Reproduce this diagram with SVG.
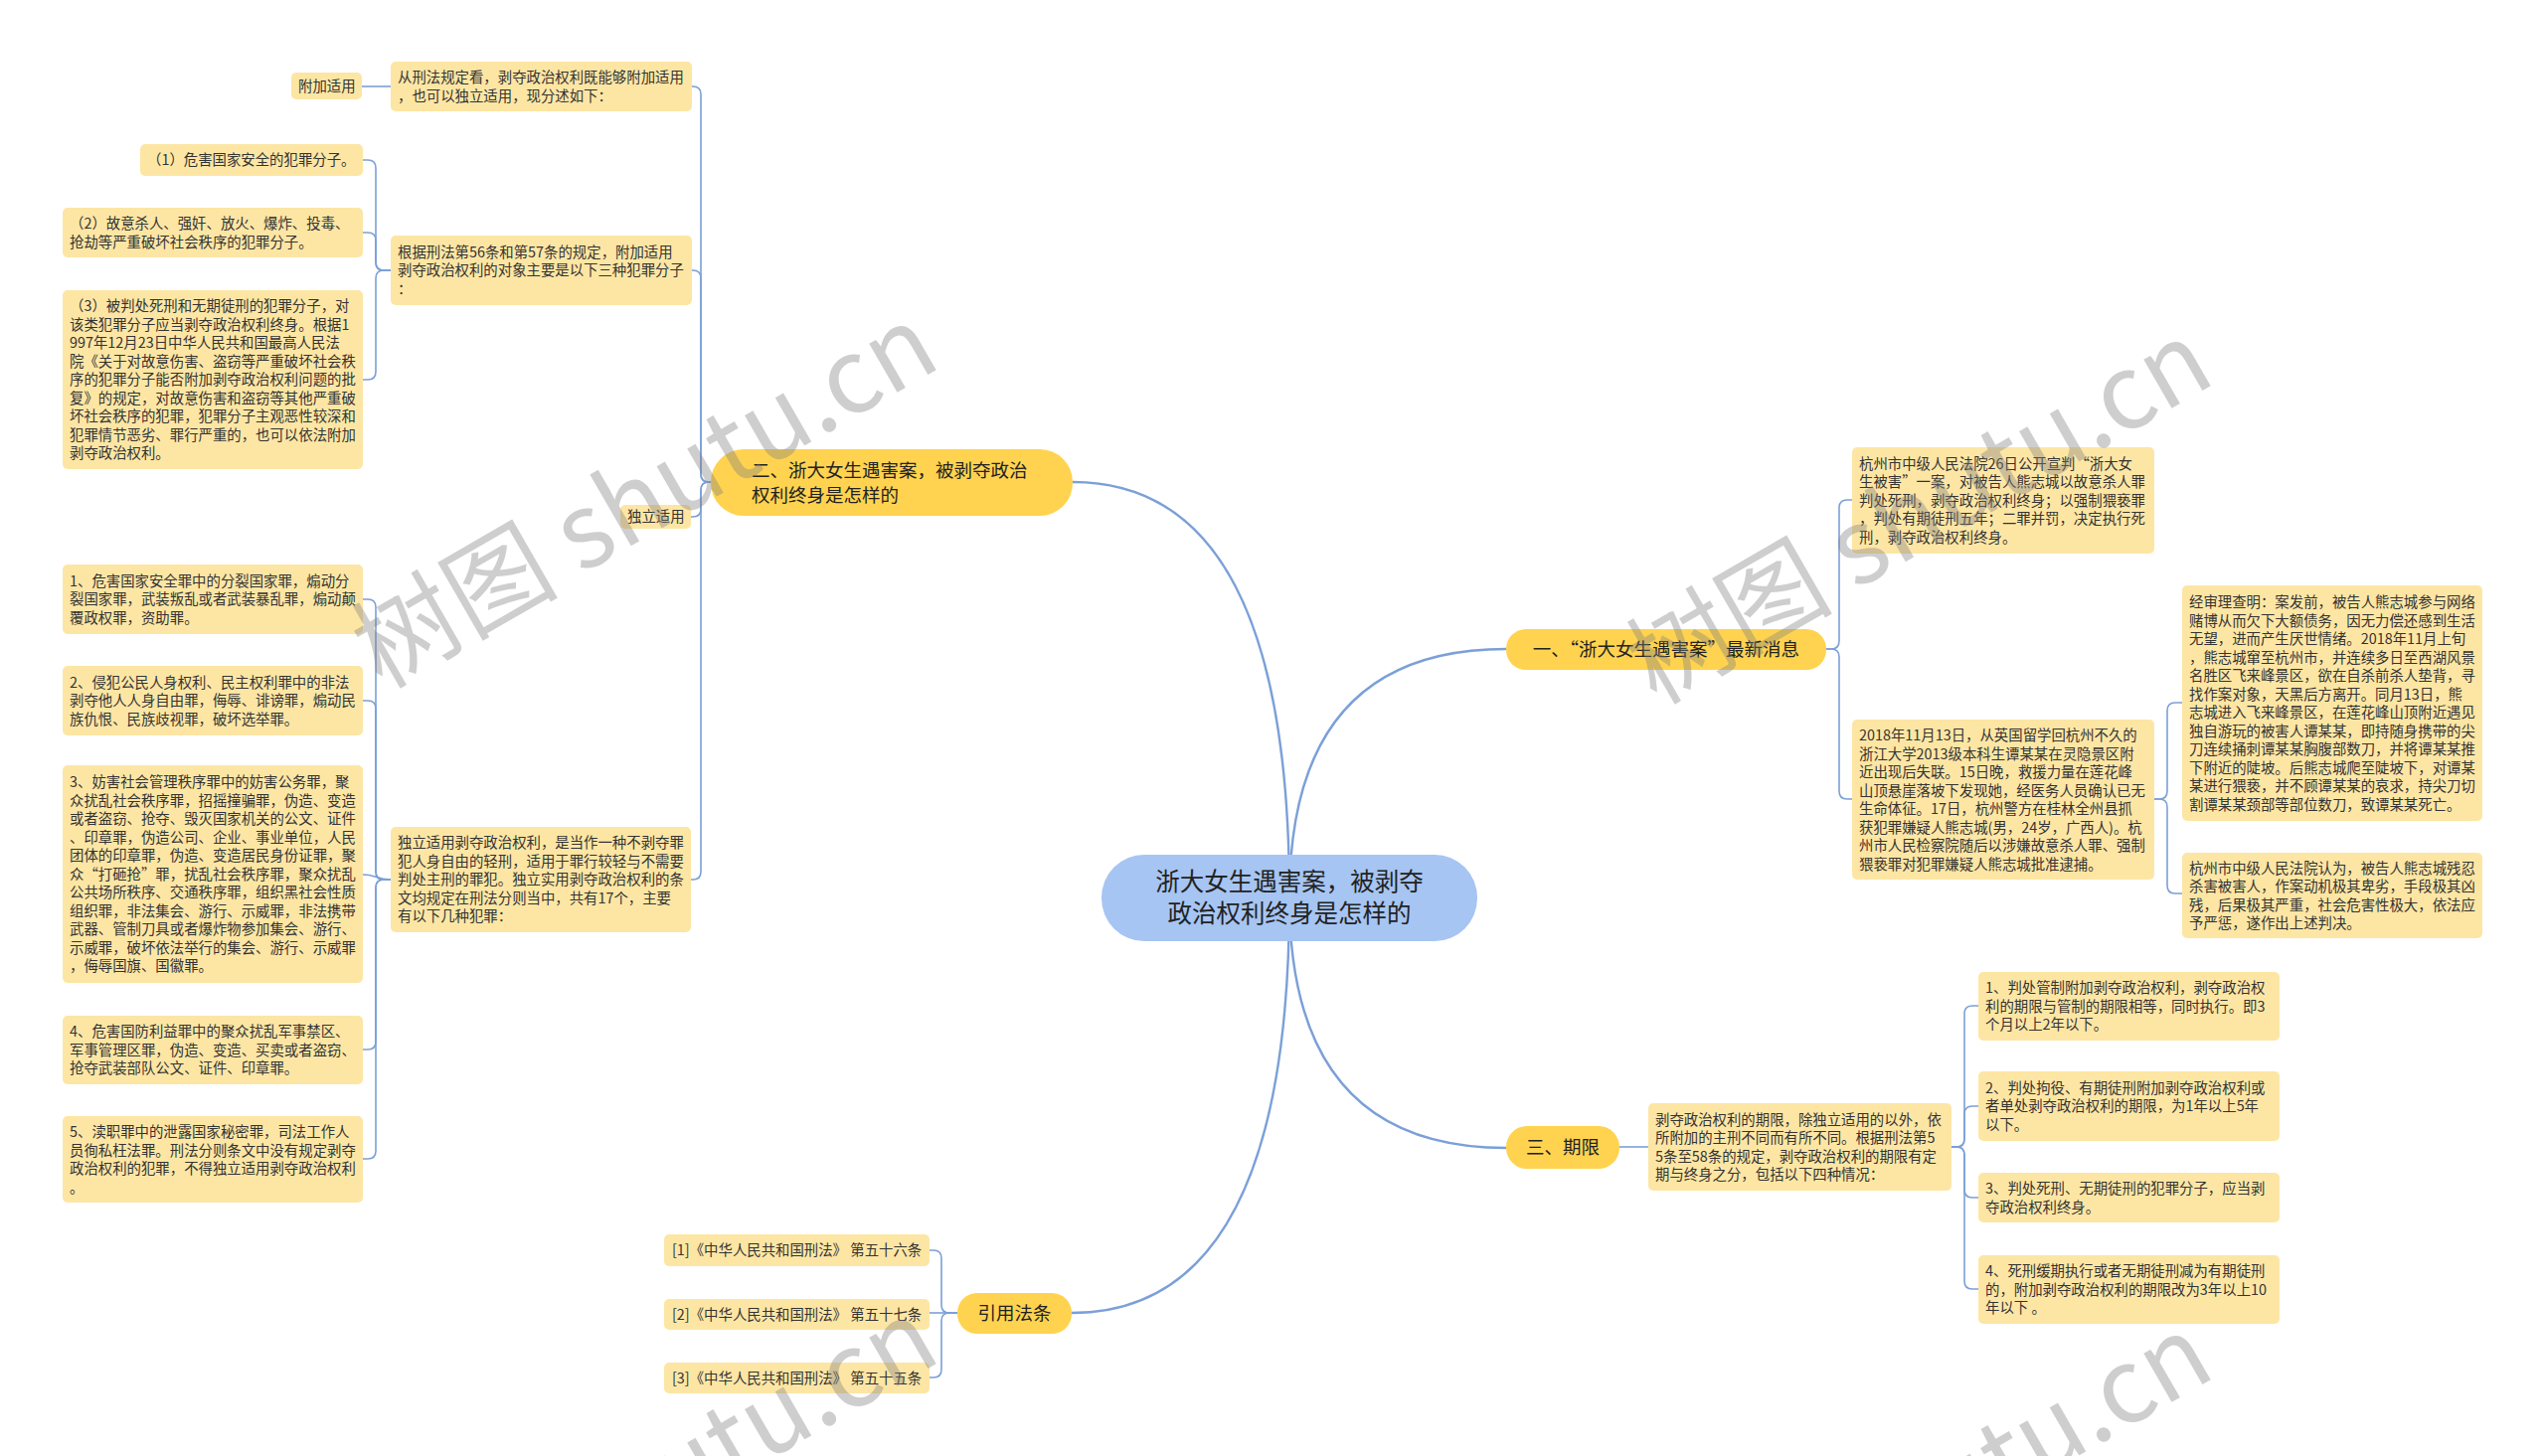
<svg xmlns="http://www.w3.org/2000/svg" width="2560" height="1465" viewBox="0 0 2560 1465">
<style>
text{font-family:"Noto Sans CJK SC","Noto Sans",sans-serif;fill:#333}
.leaf rect{fill:#FDE6A4}
.leaf text{font-size:14.4px}
.main rect{fill:#FFD34F}
.main text{font-size:18.5px;fill:#222}
.root rect{fill:#A6C5F2}
.root text{font-size:24.5px;fill:#222}
.c1{fill:none;stroke:#7BA0D8;stroke-width:2.4}
.c2{fill:none;stroke:#7BA0D8;stroke-width:1.6}
.wm{font-family:"Noto Sans CJK SC",sans-serif;font-size:104px;fill:#808080;opacity:0.38}
</style>
<rect width="2560" height="1465" fill="#ffffff"/>
<g id="connectors">
<path class="c1" d="M1297 903 Q1297 485 1079 485"/>
<path class="c1" d="M1297 903 Q1297 653 1515 653"/>
<path class="c1" d="M1297 903 Q1297 1155 1515 1155"/>
<path class="c1" d="M1297 903 Q1297 1321 1078 1321"/>
<path class="c2" d="M715 485 H713 Q705 485 705 477 V95 Q705 87 697 87 H696"/>
<path class="c2" d="M715 485 H713 Q705 485 705 477 V280 Q705 272 697 272 H696"/>
<path class="c2" d="M715 485 H713 Q705 485 705 493 V512 Q705 520 697 520 H695"/>
<path class="c2" d="M715 485 H713 Q705 485 705 493 V877 Q705 885 697 885 H695"/>
<path class="c2" d="M393 87 H364"/>
<path class="c2" d="M393 272 H386 Q378 272 378 264 V169 Q378 161 370 161 H365"/>
<path class="c2" d="M393 272 H386 Q378 272 378 264 V242 Q378 234 370 234 H365"/>
<path class="c2" d="M393 272 H386 Q378 272 378 280 V374 Q378 382 370 382 H365"/>
<path class="c2" d="M393 885 H386 Q378 885 378 877 V611 Q378 603 370 603 H365"/>
<path class="c2" d="M393 885 H386 Q378 885 378 877 V713 Q378 705 370 705 H365"/>
<path class="c2" d="M393 885 C378 885 378 880 365 880"/>
<path class="c2" d="M393 885 H386 Q378 885 378 893 V1048 Q378 1056 370 1056 H365"/>
<path class="c2" d="M393 885 H386 Q378 885 378 893 V1158 Q378 1166 370 1166 H365"/>
<path class="c2" d="M1837 653 H1842 Q1850 653 1850 645 V511 Q1850 503 1858 503 H1863"/>
<path class="c2" d="M1837 653 H1842 Q1850 653 1850 661 V796 Q1850 804 1858 804 H1863"/>
<path class="c2" d="M2167 804 H2172 Q2180 804 2180 796 V715 Q2180 707 2188 707 H2195"/>
<path class="c2" d="M2167 804 H2172 Q2180 804 2180 812 V891 Q2180 899 2188 899 H2195"/>
<path class="c2" d="M1629 1154 H1658"/>
<path class="c2" d="M1963 1154 H1968 Q1976 1154 1976 1146 V1020 Q1976 1012 1984 1012 H1990"/>
<path class="c2" d="M1963 1154 H1968 Q1976 1154 1976 1146 V1121 Q1976 1113 1984 1113 H1990"/>
<path class="c2" d="M1963 1154 H1968 Q1976 1154 1976 1162 V1197 Q1976 1205 1984 1205 H1990"/>
<path class="c2" d="M1963 1154 H1968 Q1976 1154 1976 1162 V1289 Q1976 1297 1984 1297 H1990"/>
<path class="c2" d="M963 1321 H955 Q947 1321 947 1313 V1266 Q947 1258 939 1258 H935"/>
<path class="c2" d="M963 1321 H935"/>
<path class="c2" d="M963 1321 H955 Q947 1321 947 1329 V1378 Q947 1386 939 1386 H935"/>
</g>

<g id="root" class="root">
<rect x="1108" y="860" width="378" height="87" rx="43"/>
<text x="1297" y="895.8" text-anchor="middle">浙大女生遇害案，被剥夺</text>
<text x="1297" y="927.8" text-anchor="middle">政治权利终身是怎样的</text>
</g>

<g id="main-2" class="main">
<rect x="715" y="452" width="364" height="67" rx="33"/>
<text x="756" y="479.6">二、浙大女生遇害案，被剥夺政治</text>
<text x="756" y="504.6">权利终身是怎样的</text>
</g>
<g id="main-1" class="main">
<rect x="1515" y="633" width="322" height="41" rx="20"/>
<text x="1676" y="659.6" text-anchor="middle">一、“浙大女生遇害案”最新消息</text>
</g>
<g id="main-3" class="main">
<rect x="1515" y="1133" width="114" height="43" rx="21"/>
<text x="1572" y="1161" text-anchor="middle">三、期限</text>
</g>
<g id="main-4" class="main">
<rect x="963" y="1301" width="115" height="41" rx="20"/>
<text x="1020.5" y="1328" text-anchor="middle">引用法条</text>
</g>

<g id="fujia" class="leaf">
<rect x="293" y="73" width="71" height="27" rx="5"/>
<text x="300" y="92">附加适用</text>
</g>
<g id="b1" class="leaf">
<rect x="393" y="62" width="303" height="50" rx="5"/>
<text x="400" y="83">从刑法规定看，剥夺政治权利既能够附加适用</text>
<text x="400" y="101.5">，也可以独立适用，现分述如下：</text>
</g>
<g id="b2" class="leaf">
<rect x="393" y="237" width="303" height="70" rx="5"/>
<text x="400" y="258.7">根据刑法第56条和第57条的规定，附加适用</text>
<text x="400" y="277.2">剥夺政治权利的对象主要是以下三种犯罪分子</text>
<text x="400" y="295.7">：</text>
</g>
<g id="p1" class="leaf">
<rect x="141" y="145" width="224" height="32" rx="5"/>
<text x="148" y="166">（1）危害国家安全的犯罪分子。</text>
</g>
<g id="p2" class="leaf">
<rect x="63" y="209" width="302" height="50" rx="5"/>
<text x="70" y="230">（2）故意杀人、强奸、放火、爆炸、投毒、</text>
<text x="70" y="248.5">抢劫等严重破坏社会秩序的犯罪分子。</text>
</g>
<g id="p3" class="leaf">
<rect x="63" y="292" width="302" height="180" rx="5"/>
<text x="70" y="313.2">（3）被判处死刑和无期徒刑的犯罪分子，对</text>
<text x="70" y="331.7">该类犯罪分子应当剥夺政治权利终身。根据1</text>
<text x="70" y="350.2">997年12月23日中华人民共和国最高人民法</text>
<text x="70" y="368.7">院《关于对故意伤害、盗窃等严重破坏社会秩</text>
<text x="70" y="387.2">序的犯罪分子能否附加剥夺政治权利问题的批</text>
<text x="70" y="405.7">复》的规定，对故意伤害和盗窃等其他严重破</text>
<text x="70" y="424.2">坏社会秩序的犯罪，犯罪分子主观恶性较深和</text>
<text x="70" y="442.7">犯罪情节恶劣、罪行严重的，也可以依法附加</text>
<text x="70" y="461.2">剥夺政治权利。</text>
</g>
<g id="duli" class="leaf">
<rect x="624" y="508" width="71" height="24" rx="5"/>
<text x="631" y="525.2">独立适用</text>
</g>
<g id="b3" class="leaf">
<rect x="393" y="832" width="302" height="106" rx="5"/>
<text x="400" y="853.2">独立适用剥夺政治权利，是当作一种不剥夺罪</text>
<text x="400" y="871.7">犯人身自由的轻刑，适用于罪行较轻与不需要</text>
<text x="400" y="890.2">判处主刑的罪犯。独立实用剥夺政治权利的条</text>
<text x="400" y="908.7">文均规定在刑法分则当中，共有17个，主要</text>
<text x="400" y="927.2">有以下几种犯罪：</text>
</g>
<g id="q1" class="leaf">
<rect x="63" y="568" width="302" height="70" rx="5"/>
<text x="70" y="589.7">1、危害国家安全罪中的分裂国家罪，煽动分</text>
<text x="70" y="608.2">裂国家罪，武装叛乱或者武装暴乱罪，煽动颠</text>
<text x="70" y="626.7">覆政权罪，资助罪。</text>
</g>
<g id="q2" class="leaf">
<rect x="63" y="670" width="302" height="70" rx="5"/>
<text x="70" y="691.7">2、侵犯公民人身权利、民主权利罪中的非法</text>
<text x="70" y="710.2">剥夺他人人身自由罪，侮辱、诽谤罪，煽动民</text>
<text x="70" y="728.7">族仇恨、民族歧视罪，破坏选举罪。</text>
</g>
<g id="q3" class="leaf">
<rect x="63" y="770" width="302" height="219" rx="5"/>
<text x="70" y="792.2">3、妨害社会管理秩序罪中的妨害公务罪，聚</text>
<text x="70" y="810.7">众扰乱社会秩序罪，招摇撞骗罪，伪造、变造</text>
<text x="70" y="829.2">或者盗窃、抢夺、毁灭国家机关的公文、证件</text>
<text x="70" y="847.7">、印章罪，伪造公司、企业、事业单位，人民</text>
<text x="70" y="866.2">团体的印章罪，伪造、变造居民身份证罪，聚</text>
<text x="70" y="884.7">众“打砸抢”罪，扰乱社会秩序罪，聚众扰乱</text>
<text x="70" y="903.2">公共场所秩序、交通秩序罪，组织黑社会性质</text>
<text x="70" y="921.7">组织罪，非法集会、游行、示威罪，非法携带</text>
<text x="70" y="940.2">武器、管制刀具或者爆炸物参加集会、游行、</text>
<text x="70" y="958.7">示威罪，破坏依法举行的集会、游行、示威罪</text>
<text x="70" y="977.2">，侮辱国旗、国徽罪。</text>
</g>
<g id="q4" class="leaf">
<rect x="63" y="1022" width="302" height="69" rx="5"/>
<text x="70" y="1043.2">4、危害国防利益罪中的聚众扰乱军事禁区、</text>
<text x="70" y="1061.7">军事管理区罪，伪造、变造、买卖或者盗窃、</text>
<text x="70" y="1080.2">抢夺武装部队公文、证件、印章罪。</text>
</g>
<g id="q5" class="leaf">
<rect x="63" y="1123" width="302" height="87" rx="5"/>
<text x="70" y="1144">5、渎职罪中的泄露国家秘密罪，司法工作人</text>
<text x="70" y="1162.5">员徇私枉法罪。刑法分则条文中没有规定剥夺</text>
<text x="70" y="1181">政治权利的犯罪，不得独立适用剥夺政治权利</text>
<text x="70" y="1199.5">。</text>
</g>

<g id="a" class="leaf">
<rect x="1863" y="450" width="304" height="107" rx="5"/>
<text x="1870" y="471.7">杭州市中级人民法院26日公开宣判“浙大女</text>
<text x="1870" y="490.2">生被害”一案，对被告人熊志城以故意杀人罪</text>
<text x="1870" y="508.7">判处死刑，剥夺政治权利终身；以强制猥亵罪</text>
<text x="1870" y="527.2">，判处有期徒刑五年；二罪并罚，决定执行死</text>
<text x="1870" y="545.7">刑，剥夺政治权利终身。</text>
</g>
<g id="b" class="leaf">
<rect x="1863" y="724" width="304" height="161" rx="5"/>
<text x="1870" y="745">2018年11月13日，从英国留学回杭州不久的</text>
<text x="1870" y="763.5">浙江大学2013级本科生谭某某在灵隐景区附</text>
<text x="1870" y="782">近出现后失联。15日晚，救援力量在莲花峰</text>
<text x="1870" y="800.5">山顶悬崖落坡下发现她，经医务人员确认已无</text>
<text x="1870" y="819">生命体征。17日，杭州警方在桂林全州县抓</text>
<text x="1870" y="837.5">获犯罪嫌疑人熊志城(男，24岁，广西人)。杭</text>
<text x="1870" y="856">州市人民检察院随后以涉嫌故意杀人罪、强制</text>
<text x="1870" y="874.5">猥亵罪对犯罪嫌疑人熊志城批准逮捕。</text>
</g>
<g id="c" class="leaf">
<rect x="2195" y="589" width="302" height="237" rx="5"/>
<text x="2202" y="611">经审理查明：案发前，被告人熊志城参与网络</text>
<text x="2202" y="629.5">赌博从而欠下大额债务，因无力偿还感到生活</text>
<text x="2202" y="648">无望，进而产生厌世情绪。2018年11月上旬</text>
<text x="2202" y="666.5">，熊志城窜至杭州市，并连续多日至西湖风景</text>
<text x="2202" y="685">名胜区飞来峰景区，欲在自杀前杀人垫背，寻</text>
<text x="2202" y="703.5">找作案对象，天黑后方离开。同月13日，熊</text>
<text x="2202" y="722">志城进入飞来峰景区，在莲花峰山顶附近遇见</text>
<text x="2202" y="740.5">独自游玩的被害人谭某某，即持随身携带的尖</text>
<text x="2202" y="759">刀连续捅刺谭某某胸腹部数刀，并将谭某某推</text>
<text x="2202" y="777.5">下附近的陡坡。后熊志城爬至陡坡下，对谭某</text>
<text x="2202" y="796">某进行猥亵，并不顾谭某某的哀求，持尖刀切</text>
<text x="2202" y="814.5">割谭某某颈部等部位数刀，致谭某某死亡。</text>
</g>
<g id="d" class="leaf">
<rect x="2195" y="858" width="302" height="86" rx="5"/>
<text x="2202" y="878.5">杭州市中级人民法院认为，被告人熊志城残忍</text>
<text x="2202" y="897">杀害被害人，作案动机极其卑劣，手段极其凶</text>
<text x="2202" y="915.5">残，后果极其严重，社会危害性极大，依法应</text>
<text x="2202" y="934">予严惩，遂作出上述判决。</text>
</g>
<g id="e" class="leaf">
<rect x="1658" y="1110" width="305" height="88" rx="5"/>
<text x="1665" y="1131.5">剥夺政治权利的期限，除独立适用的以外，依</text>
<text x="1665" y="1150">所附加的主刑不同而有所不同。根据刑法第5</text>
<text x="1665" y="1168.5">5条至58条的规定，剥夺政治权利的期限有定</text>
<text x="1665" y="1187">期与终身之分，包括以下四种情况：</text>
</g>
<g id="f1" class="leaf">
<rect x="1990" y="978" width="303" height="69" rx="5"/>
<text x="1997" y="999.2">1、判处管制附加剥夺政治权利，剥夺政治权</text>
<text x="1997" y="1017.7">利的期限与管制的期限相等，同时执行。即3</text>
<text x="1997" y="1036.2">个月以上2年以下。</text>
</g>
<g id="f2" class="leaf">
<rect x="1990" y="1078" width="303" height="70" rx="5"/>
<text x="1997" y="1099.7">2、判处拘役、有期徒刑附加剥夺政治权利或</text>
<text x="1997" y="1118.2">者单处剥夺政治权利的期限，为1年以上5年</text>
<text x="1997" y="1136.7">以下。</text>
</g>
<g id="f3" class="leaf">
<rect x="1990" y="1180" width="303" height="50" rx="5"/>
<text x="1997" y="1201">3、判处死刑、无期徒刑的犯罪分子，应当剥</text>
<text x="1997" y="1219.5">夺政治权利终身。</text>
</g>
<g id="f4" class="leaf">
<rect x="1990" y="1263" width="303" height="69" rx="5"/>
<text x="1997" y="1284.2">4、死刑缓期执行或者无期徒刑减为有期徒刑</text>
<text x="1997" y="1302.7">的，附加剥夺政治权利的期限改为3年以上10</text>
<text x="1997" y="1321.2">年以下 。</text>
</g>
<g id="r1" class="leaf">
<rect x="668" y="1242" width="267" height="32" rx="5"/>
<text x="676" y="1263.2">[1]《中华人民共和国刑法》 第五十六条</text>
</g>
<g id="r2" class="leaf">
<rect x="668" y="1307" width="267" height="31" rx="5"/>
<text x="676" y="1327.7">[2]《中华人民共和国刑法》 第五十七条</text>
</g>
<g id="r3" class="leaf">
<rect x="668" y="1371" width="267" height="31" rx="5"/>
<text x="676" y="1391.7">[3]《中华人民共和国刑法》 第五十五条</text>
</g>

<g id="watermarks">
<text class="wm" transform="translate(384 694) rotate(-30)">树图 shutu.cn</text>
<text class="wm" transform="translate(1666 710) rotate(-30)">树图 shutu.cn</text>
<text class="wm" transform="translate(384 1694) rotate(-30)">树图 shutu.cn</text>
<text class="wm" transform="translate(1666 1710) rotate(-30)">树图 shutu.cn</text>
</g>
</svg>
